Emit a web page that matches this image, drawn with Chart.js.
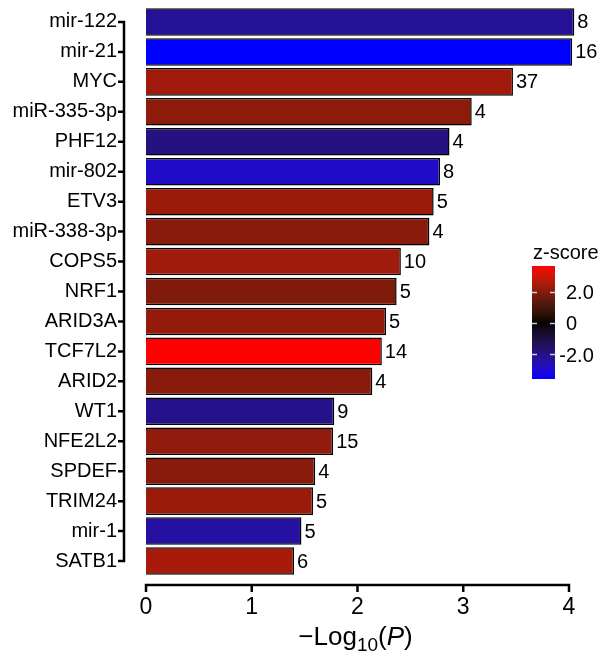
<!DOCTYPE html>
<html>
<head>
<meta charset="utf-8">
<script src="https://cdn.jsdelivr.net/npm/chart.js@4"></script>
<style>
  html, body { margin: 0; padding: 0; background: #fff; }
  #chart { display: block; }
</style>
</head>
<body>
<canvas id="chart" width="602" height="655"></canvas>
<script>
// gene / miRNA set names, top to bottom
const terms = ['mir-122', 'mir-21', 'MYC', 'miR-335-3p', 'PHF12', 'mir-802', 'ETV3',
  'miR-338-3p', 'COPS5', 'NRF1', 'ARID3A', 'TCF7L2', 'ARID2', 'WT1', 'NFE2L2',
  'SPDEF', 'TRIM24', 'mir-1', 'SATB1'];

// -log10(P)
const negLogP = [4.05, 4.03, 3.47, 3.08, 2.87, 2.78, 2.72, 2.68, 2.41, 2.37, 2.27,
  2.23, 2.14, 1.78, 1.77, 1.60, 1.58, 1.47, 1.40];

// number of overlapping genes (label at bar end)
const counts = [8, 16, 37, 4, 4, 8, 5, 4, 10, 5, 5, 14, 4, 9, 15, 4, 5, 5, 6];

// z-score, drives the bar colour
const zScores = [-2.2, -3.57, 2.36, 2.07, -1.9, -2.86, 2.28, 2.03, 2.36, 1.90, 2.18,
  3.63, 2.03, -2.03, 2.14, 2.01, 2.28, -2.36, 2.47];

const xTicks = [0, 1, 2, 3, 4];
const zTicks = [2, 0, -2];
const zTickLabels = ['2.0', '0', '-2.0'];

const FONT = '"Liberation Sans", Arial, sans-serif';
const zMax = Math.max(...zScores);
const zMin = Math.min(...zScores);

// colour scale: blue -> black -> red, interpolated in Lab space
const LAB_RED = [53.24, 80.09, 67.20];
const LAB_BLUE = [32.30, 79.19, -107.86];

function labToRgb(L, a, b) {
  const fy = (L + 16) / 116, fx = fy + a / 500, fz = fy - b / 200;
  const inv = t => t > 0.206893 ? t * t * t : (t - 16 / 116) / 7.787;
  const X = 0.95047 * inv(fx), Y = inv(fy), Z = 1.08883 * inv(fz);
  const lin = [
    3.2406 * X - 1.5372 * Y - 0.4986 * Z,
    -0.9689 * X + 1.8758 * Y + 0.0415 * Z,
    0.0557 * X - 0.2040 * Y + 1.0570 * Z
  ];
  return lin.map(c => {
    c = Math.max(0, Math.min(1, c));
    const s = c <= 0.0031308 ? 12.92 * c : 1.055 * Math.pow(c, 1 / 2.4) - 0.055;
    return Math.round(s * 255);
  });
}

function zColor(z) {
  let end, f;
  if (z >= 0) { end = LAB_RED; f = z / zMax; } else { end = LAB_BLUE; f = z / zMin; }
  f = Math.max(0, Math.min(1, f));
  const rgb = labToRgb(end[0] * f, end[1] * f, end[2] * f);
  return `rgb(${rgb[0]},${rgb[1]},${rgb[2]})`;
}

// axes drawn detached from the plot, count labels, colour bar, axis title
const decorations = {
  id: 'decorations',
  afterDatasetsDraw(chart) {
    const ctx = chart.ctx;
    const area = chart.chartArea;
    const xs = chart.scales.x, ys = chart.scales.y;
    ctx.save();
    ctx.strokeStyle = '#000';
    ctx.fillStyle = '#000';
    ctx.lineWidth = 2.5;

    // y axis line with ticks
    const yAxX = area.left - 22;
    const yTop = ys.getPixelForValue(0), yBot = ys.getPixelForValue(terms.length - 1);
    ctx.beginPath();
    ctx.moveTo(yAxX, yTop - 1.25);
    ctx.lineTo(yAxX, yBot + 1.25);
    terms.forEach((t, i) => {
      const y = ys.getPixelForValue(i);
      ctx.moveTo(yAxX - 6, y);
      ctx.lineTo(yAxX, y);
    });
    ctx.stroke();

    // x axis line with ticks
    const xAxY = area.bottom + 9;
    ctx.beginPath();
    ctx.moveTo(xs.getPixelForValue(xTicks[0]) - 1.25, xAxY);
    ctx.lineTo(xs.getPixelForValue(xTicks[xTicks.length - 1]) + 1.25, xAxY);
    xTicks.forEach(v => {
      const x = xs.getPixelForValue(v);
      ctx.moveTo(x, xAxY);
      ctx.lineTo(x, xAxY + 7);
    });
    ctx.stroke();

    // counts at bar ends
    ctx.font = '20px ' + FONT;
    ctx.textAlign = 'left';
    ctx.textBaseline = 'middle';
    chart.getDatasetMeta(0).data.forEach((bar, i) => {
      ctx.fillText(String(counts[i]), bar.x + 3, bar.y + 1);
    });

    // colour bar
    const cbL = 532, cbR = 555, cbT = 266, cbB = 379;
    const zToY = z => cbT + (zMax - z) / (zMax - zMin) * (cbB - cbT);
    for (let y = cbT; y < cbB; y++) {
      const z = zMax - (y + 0.5 - cbT) / (cbB - cbT) * (zMax - zMin);
      ctx.fillStyle = zColor(z);
      ctx.fillRect(cbL, y, cbR - cbL, 1);
    }
    ctx.strokeStyle = 'rgba(225,225,225,0.9)';
    ctx.lineWidth = 1.5;
    zTicks.forEach(z => {
      const y = Math.round(zToY(z)) + 0.5;
      ctx.beginPath();
      ctx.moveTo(cbL, y); ctx.lineTo(cbL + 5, y);
      ctx.moveTo(cbR - 5, y); ctx.lineTo(cbR, y);
      ctx.stroke();
    });
    ctx.fillStyle = '#000';
    ctx.font = '20px ' + FONT;
    ctx.textBaseline = 'middle';
    const dash = ctx.measureText('-').width;
    zTickLabels.forEach((lab, i) => {
      const x = lab.startsWith('-') ? 566 - dash : 566;
      ctx.fillText(lab, x, zToY(zTicks[i]) + 2);
    });
    ctx.textBaseline = 'alphabetic';
    ctx.fillText('z-score', 533, 259);

    // x axis title: −Log10(P)
    const big = '26px ' + FONT, small = '19px ' + FONT, ital = 'italic 26px ' + FONT;
    const parts = [['\u2212Log', big, 0], ['10', small, 6], ['(', big, 0], ['P', ital, 0], [')', big, 0]];
    let total = 0;
    parts.forEach(p => { ctx.font = p[1]; total += ctx.measureText(p[0]).width; });
    let x = (area.left + area.right) / 2 - total / 2 - 2;
    const base = 645;
    parts.forEach(p => {
      ctx.font = p[1];
      ctx.fillText(p[0], x, base + p[2]);
      x += ctx.measureText(p[0]).width;
    });
    ctx.restore();
  }
};

new Chart(document.getElementById('chart'), {
  type: 'bar',
  data: {
    labels: terms,
    datasets: [{
      data: negLogP,
      backgroundColor: zScores.map(zColor),
      borderColor: '#000',
      borderWidth: 1.5,
      barPercentage: 0.92,
      categoryPercentage: 1,
      clip: false
    }]
  },
  options: {
    indexAxis: 'y',
    responsive: false,
    animation: false,
    devicePixelRatio: 1,
    layout: { padding: { top: 7, right: 33, left: 0, bottom: 0 } },
    plugins: { legend: { display: false }, tooltip: { enabled: false } },
    scales: {
      x: {
        min: 0, max: 4,
        afterFit(s) { s.height = 79; s.paddingLeft = 0; s.paddingRight = 0; },
        grid: { display: false, drawTicks: false },
        border: { display: false },
        ticks: { stepSize: 1, padding: 18, color: '#000', font: { family: FONT, size: 23 } }
      },
      y: {
        afterFit(s) { s.width = 146; s.paddingTop = 0; s.paddingBottom = 0; },
        grid: { display: false, drawTicks: false },
        border: { display: false },
        ticks: { padding: 29, color: '#000', autoSkip: false, font: { family: FONT, size: 20 } }
      }
    }
  },
  plugins: [decorations]
});
</script>
</body>
</html>
